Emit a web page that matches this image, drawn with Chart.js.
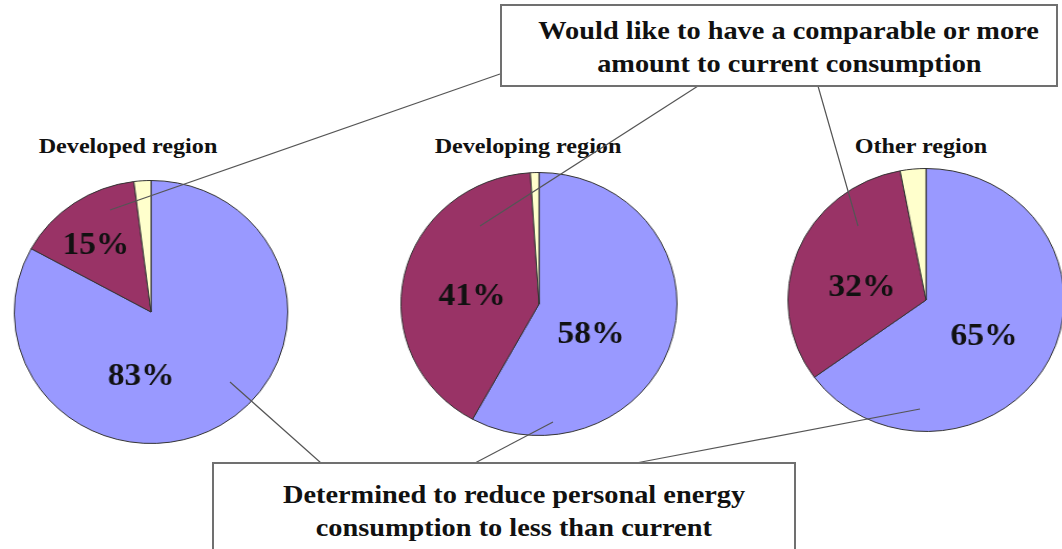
<!DOCTYPE html>
<html>
<head>
<meta charset="utf-8">
<script src="https://cdn.jsdelivr.net/npm/chart.js@4"></script>
<style>
  html, body { margin: 0; padding: 0; background: #fff; }
  #stage { position: relative; width: 1062px; height: 549px; overflow: hidden; background: #fff;
           font-family: "Liberation Serif", "Times New Roman", serif; }
  .pie { position: absolute; width: 266px; height: 266px; transform-origin: 50% 50%; }
  .title { position: absolute; font-weight: bold; font-size: 21px; color: #111; white-space: nowrap;
           transform: translate(-50%, -50%) scaleX(1.15); }
  .callout { position: absolute; background: #fff; border: 2px solid #707070; box-sizing: border-box;
             font-weight: bold; font-size: 26px; line-height: 33px; color: #111; text-align: center;
             padding-left: 20px; }
  .callout span { display: inline-block; white-space: nowrap; transform: scaleX(1.09); }
  svg { position: absolute; left: 0; top: 0; }
</style>
</head>
<body>
<div id="stage">
  <svg id="leaders" width="1062" height="549"></svg>
</div>
<script>
'use strict';

// Data
const regions = ['Developed region', 'Developing region', 'Other region'];
const answers = [
  'Determined to reduce personal energy consumption to less than current',
  'Would like to have a comparable or more amount to current consumption',
  'Other'
];
const developedShares = [83, 15, 2];
const developingShares = [58, 41, 1];
const otherShares = [65, 32, 3];
const sliceColors = ['#9999FF', '#993366', '#FFFFCC'];

// Layout of each pie: centre, horizontal stretch, label offsets from the centre
const pies = [
  { id: 'developed', title: regions[0], values: developedShares, cx: 151, cy: 312, sx: 1.04,
    titleX: 128, titleY: 146, labelOffsets: [[-10, 65], [-55, -66]] },
  { id: 'developing', title: regions[1], values: developingShares, cx: 539, cy: 304, sx: 1.05,
    titleX: 528, titleY: 146, labelOffsets: [[52, 31], [-67, -7]] },
  { id: 'other', title: regions[2], values: otherShares, cx: 926, cy: 300, sx: 1.05,
    titleX: 921, titleY: 146, labelOffsets: [[58, 37], [-64, -12]] }
];

const stage = document.getElementById('stage');

// percent labels drawn at fixed offsets from each pie centre (as in the source slide)
const pctLabels = {
  id: 'pctLabels',
  afterDatasetsDraw(chart, args, opts) {
    const ctx = chart.ctx;
    const arc = chart.getDatasetMeta(0).data[0];
    const ds = chart.data.datasets[0];
    ctx.save();
    ctx.font = 'bold 32px "Liberation Serif", serif';
    ctx.fillStyle = '#111';
    ctx.textAlign = 'center';
    ctx.textBaseline = 'middle';
    opts.offsets.forEach((o, i) => {
      ctx.fillText(ds.data[i] + '%', arc.x + o[0] / opts.sx, arc.y + o[1]);
    });
    ctx.restore();
  }
};

pies.forEach(p => {
  const box = document.createElement('div');
  box.className = 'pie';
  box.style.left = (p.cx - 133) + 'px';
  box.style.top = (p.cy - 133) + 'px';
  box.style.transform = `scaleX(${p.sx})`;
  const c = document.createElement('canvas');
  box.appendChild(c);
  stage.appendChild(box);

  const t = document.createElement('div');
  t.className = 'title';
  t.textContent = p.title;
  t.style.left = p.titleX + 'px';
  t.style.top = p.titleY + 'px';
  stage.appendChild(t);

  new Chart(c, {
    type: 'pie',
    data: {
      labels: answers,
      datasets: [{
        data: p.values,
        backgroundColor: sliceColors,
        borderColor: '#333',
        borderWidth: 1
      }]
    },
    options: {
      responsive: true, maintainAspectRatio: false, animation: false,
      layout: { padding: 1 },
      plugins: {
        legend: { display: false },
        tooltip: { enabled: false },
        pctLabels: { offsets: p.labelOffsets, sx: p.sx }
      }
    },
    plugins: [pctLabels]
  });
});

// Callout boxes
function addCallout(left, top, width, height, pad, lines) {
  const d = document.createElement('div');
  d.className = 'callout';
  d.style.left = left + 'px';
  d.style.top = top + 'px';
  d.style.width = width + 'px';
  d.style.height = height + 'px';
  d.style.paddingTop = pad + 'px';
  d.innerHTML = lines.map(s => `<span>${s}</span>`).join('<br>');
  stage.appendChild(d);
}

// Leader lines from the callouts into the slices
const leaders = [
  [500, 74, 110, 210], [698, 86, 480, 226], [818, 86, 858, 226],
  [321, 463, 230, 382], [475, 463, 553, 422], [636, 463, 920, 409]
];
const svg = document.getElementById('leaders');
stage.appendChild(svg);
leaders.forEach(l => {
  const ln = document.createElementNS('http://www.w3.org/2000/svg', 'line');
  ln.setAttribute('x1', l[0]); ln.setAttribute('y1', l[1]);
  ln.setAttribute('x2', l[2]); ln.setAttribute('y2', l[3]);
  ln.setAttribute('stroke', '#555');
  ln.setAttribute('stroke-width', '1.2');
  svg.appendChild(ln);
});

addCallout(500, 4, 558, 83, 8, ['Would like to have a comparable or more', 'amount to current consumption']);
addCallout(212, 462, 584, 100, 14, ['Determined to reduce personal energy', 'consumption to less than current']);
</script>
</body>
</html>
